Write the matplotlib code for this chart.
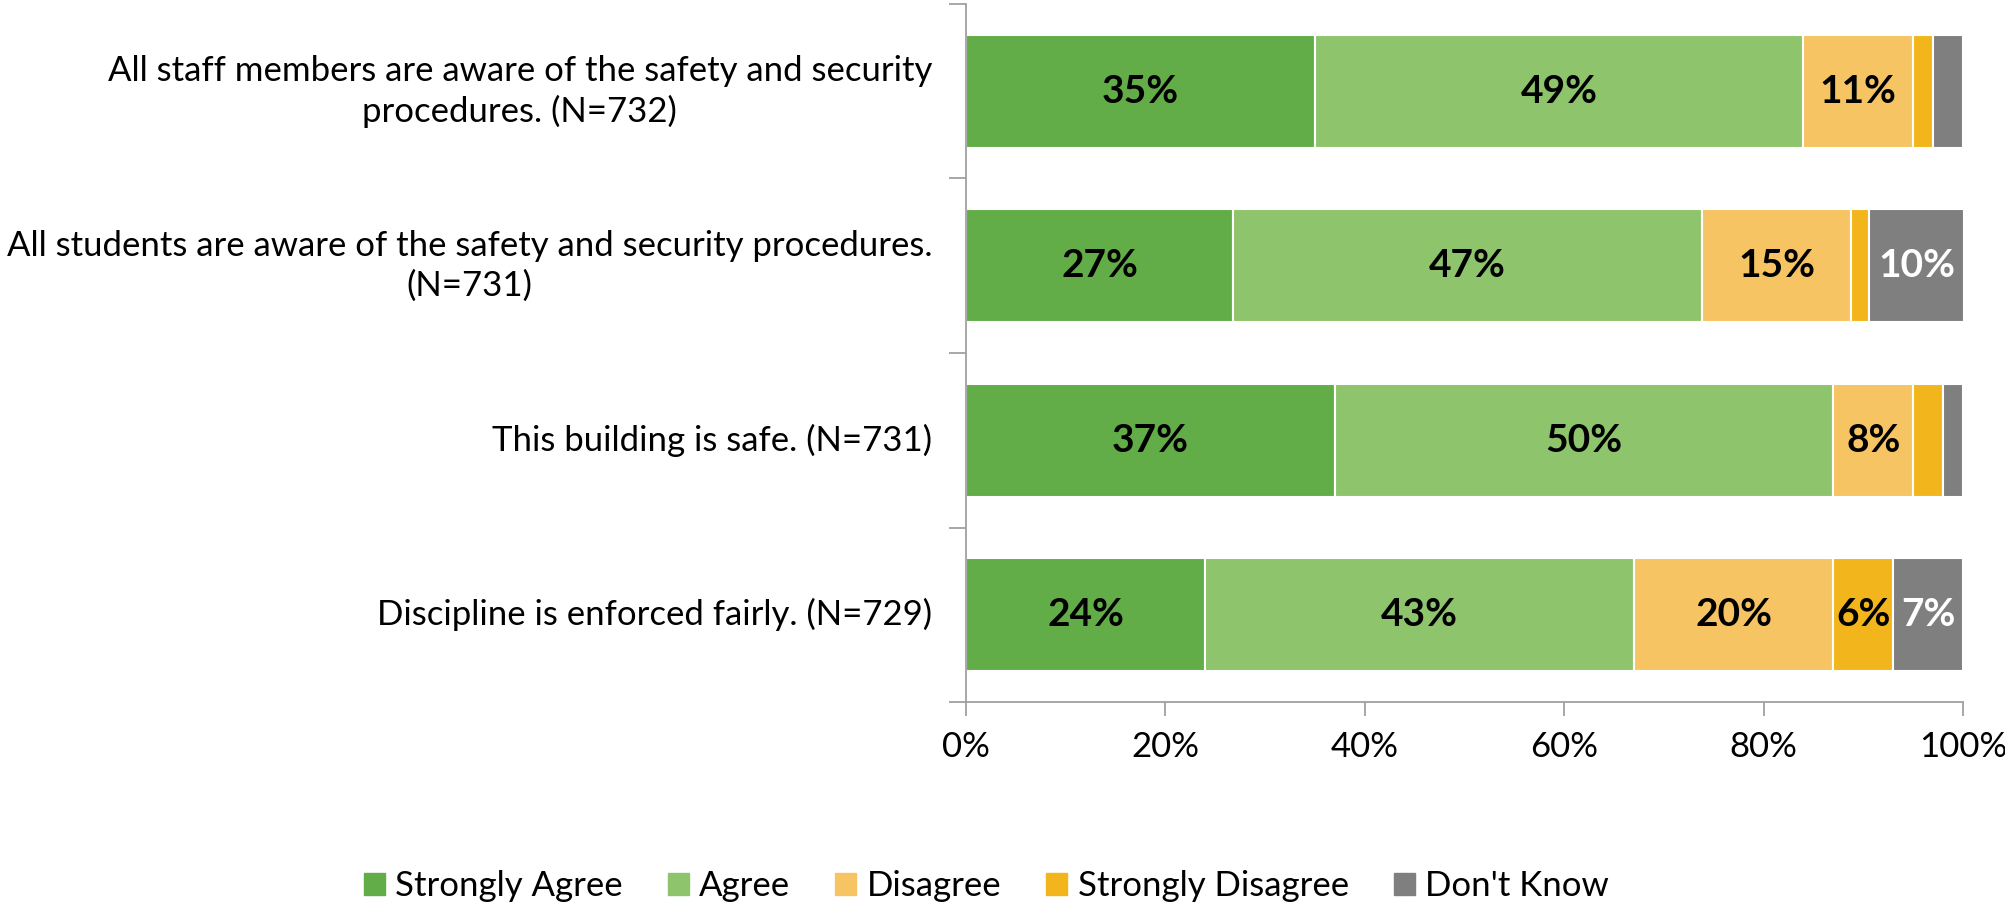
import matplotlib

matplotlib.use("Agg")
import matplotlib.patches as mpatches
import matplotlib.pyplot as plt
import numpy as np

QUESTIONS = [
    "All staff members are aware of the safety and security\nprocedures. (N=732)",
    "All students are aware of the safety and security procedures.\n(N=731)",
    "This building is safe. (N=731)",
    "Discipline is enforced fairly. (N=729)",
]
RESPONSES = ["Strongly Agree", "Agree", "Disagree", "Strongly Disagree", "Don't Know"]

STRONGLY_AGREE = [35, 26.8, 37, 24]
AGREE = [49, 47, 50, 43]
DISAGREE = [11, 15, 8, 20]
STRONGLY_DISAGREE = [2, 1.8, 3, 6]
DONT_KNOW = [3, 9.5, 2, 7]

X_TICKS = [0, 20, 40, 60, 80, 100]

COLORS = ["#62AD47", "#8EC46B", "#F6C463", "#F2B61C", "#7F7F7F"]
TEXT_COLORS = ["black", "black", "black", "black", "white"]
AXIS_GREY = "#A0A0A0"
LABEL_MIN = 5
FS = 25

plt.rcParams["font.family"] = ["Lato", "DejaVu Sans"]

fig = plt.figure(figsize=(20.05, 9.07), dpi=100)
ax = fig.add_axes([966 / 2005, 0.226, 997 / 2005, 0.7696])

series = [STRONGLY_AGREE, AGREE, DISAGREE, STRONGLY_DISAGREE, DONT_KNOW]
y = np.arange(len(QUESTIONS))
left = np.zeros(len(QUESTIONS))
for values, name, color, tcolor in zip(series, RESPONSES, COLORS, TEXT_COLORS):
    values = np.array(values, dtype=float)
    ax.barh(y, values, left=left, height=0.65, color=color, edgecolor="white",
            linewidth=1.5, label=name)
    for yi, l, v in zip(y, left, values):
        if v >= LABEL_MIN:
            ax.text(l + v / 2, yi, f"{v:.0f}%", ha="center", va="center",
                    fontsize=28, fontweight="bold", color=tcolor)
    left += values

ax.set_xlim(0, 100)
ax.set_ylim(len(QUESTIONS) - 0.5, -0.5)
ax.set_xticks(X_TICKS)
ax.set_xticklabels([f"{t}%" for t in X_TICKS], fontsize=25)
ax.tick_params(axis="x", length=10, width=1.3, color=AXIS_GREY, pad=11)

ax.set_yticks(np.arange(-0.5, len(QUESTIONS), 1.0))
ax.set_yticklabels([])
ax.tick_params(axis="y", length=12, color=AXIS_GREY, width=1.3)
for yi, q in zip(y, QUESTIONS):
    ax.text(-3.4, yi, q, ha="right", va="center", multialignment="center",
            fontsize=FS, linespacing=1.3)

for side in ["top", "right"]:
    ax.spines[side].set_visible(False)
for side in ["left", "bottom"]:
    ax.spines[side].set_color(AXIS_GREY)
    ax.spines[side].set_linewidth(1.3)

handles = [mpatches.Patch(color=c, label=r) for c, r in zip(COLORS, RESPONSES)]
fig.legend(handles=handles, loc="center", bbox_to_anchor=(0.492, 0.023), ncol=5,
           frameon=False, fontsize=FS, handlelength=0.6, handleheight=0.6,
           handletextpad=0.3, columnspacing=1.3)

fig.savefig("out.png", dpi=100)
